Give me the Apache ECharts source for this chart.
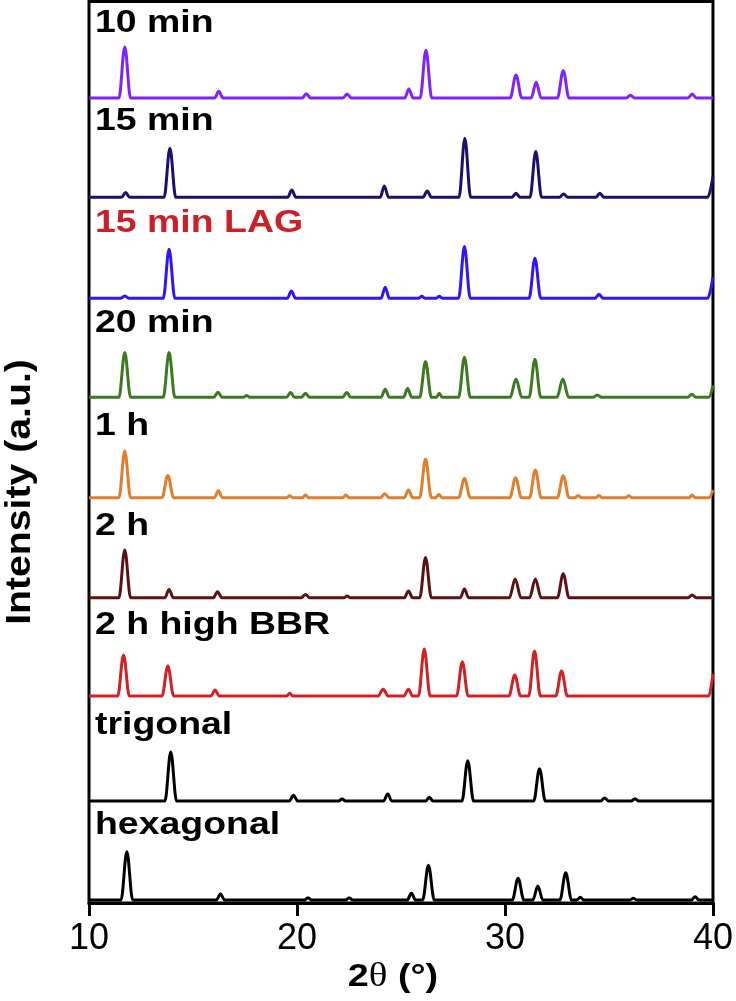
<!DOCTYPE html>
<html>
<head>
<meta charset="utf-8">
<script src="https://cdn.jsdelivr.net/npm/echarts@6/dist/echarts.min.js"></script>
<style>html,body{margin:0;padding:0;background:#fff}#c{width:736px;height:1001px}</style>
</head>
<body>
<div id="c"></div>
<script>
// ---- tick labels / axis ----
const xTicks = [10, 20, 30, 40];

// ---- series names (top to bottom) ----
const names = ['10 min', '15 min', '15 min LAG', '20 min', '1 h', '2 h', '2 h high BBR', 'trigonal', 'hexagonal'];
const colors = ['#7f22ff', '#1c0f6e', '#2f14ff', '#3b7a1e', '#e27d2b', '#5c1212', '#d42024', '#000000', '#000000'];
const labelColors = ['#000', '#000', '#cc2027', '#000', '#000', '#000', '#000', '#000', '#000'];
// vertical stacking offsets (intensity units)
const offsets = [805, 705.7, 604.7, 505.7, 405.3, 305.3, 207, 102, 3];

// ---- patterns: [2theta, relative intensity] ----
const p10min = [[10,0],[11.44,0],[11.72,51],[12.0,0],[16.04,0],[16.24,6.7],[16.44,0],[20.25,0],[20.45,4.3],[20.65,0],[22.21,0],[22.41,4],[22.61,0],[25.18,0],[25.38,9],[25.58,0],[25.92,0],[26.2,47.7],[26.48,0],[30.25,0],[30.53,23],[30.81,0],[31.26,0],[31.5,15.7],[31.74,0],[32.52,0],[32.8,27.3],[33.08,0],[35.83,0],[36.03,2.7],[36.23,0],[38.8,0],[39.0,4],[39.2,0],[40,0]];
const p15min = [[10,0],[11.56,0],[11.76,4.7],[11.96,0],[13.61,0],[13.89,49],[14.17,0],[19.55,0],[19.75,7.3],[19.95,0],[24.0,0],[24.2,11.3],[24.4,0],[26.06,0],[26.26,6.3],[26.46,0],[27.79,0],[28.07,59],[28.35,0],[30.33,0],[30.53,4],[30.73,0],[31.2,0],[31.48,45.7],[31.76,0],[32.62,0],[32.82,3.3],[33.02,0],[34.36,0],[34.56,4],[34.76,0],[39.75,0],[40,20.7]];
const p15LAG = [[10,0],[11.52,0],[11.72,2.3],[11.92,0],[13.57,0],[13.85,49],[14.13,0],[19.53,0],[19.73,7.3],[19.93,0],[24.04,0],[24.24,11],[24.44,0],[25.85,0],[26.0,2],[26.15,0],[26.7,0],[26.84,2],[26.98,0],[27.77,0],[28.05,51.7],[28.33,0],[31.16,0],[31.44,40],[31.72,0],[34.32,0],[34.52,4],[34.72,0],[39.75,0],[40,21]];
const p20min = [[10,0],[11.44,0],[11.72,44.7],[12.0,0],[13.57,0],[13.85,44.7],[14.13,0],[16.0,0],[16.2,5],[16.4,0],[17.43,0],[17.58,1.7],[17.73,0],[19.49,0],[19.69,4.7],[19.89,0],[20.21,0],[20.41,4],[20.61,0],[22.19,0],[22.39,4.7],[22.59,0],[24.04,0],[24.24,8],[24.44,0],[25.12,0],[25.32,8.7],[25.52,0],[25.9,0],[26.18,35.7],[26.46,0],[26.7,0],[26.84,4],[26.98,0],[27.77,0],[28.05,40],[28.33,0],[30.25,0],[30.53,18.3],[30.81,0],[31.16,0],[31.44,38],[31.72,0],[32.5,0],[32.78,18.3],[33.06,0],[34.24,0],[34.44,2.3],[34.64,0],[38.78,0],[38.98,3],[39.18,0],[39.8,0],[40,12]];
const p1h = [[10,0],[11.44,0],[11.72,46.7],[12.0,0],[13.51,0],[13.79,22.3],[14.07,0],[16.02,0],[16.22,7],[16.42,0],[19.5,0],[19.65,2],[19.8,0],[20.26,0],[20.41,2.7],[20.56,0],[22.2,0],[22.35,2.7],[22.5,0],[24.02,0],[24.22,4],[24.42,0],[25.16,0],[25.36,7.7],[25.56,0],[25.9,0],[26.18,38.7],[26.46,0],[26.67,0],[26.82,3.3],[26.97,0],[27.77,0],[28.05,19.3],[28.33,0],[30.23,0],[30.51,20],[30.79,0],[31.18,0],[31.46,27.7],[31.74,0],[32.52,0],[32.8,22],[33.08,0],[33.37,0],[33.52,2.3],[33.67,0],[34.37,0],[34.52,2.3],[34.67,0],[35.8,0],[35.95,2],[36.1,0],[38.85,0],[39.0,2.7],[39.15,0],[39.8,0],[40,7.7]];
const p2h = [[10,0],[11.44,0],[11.72,47.7],[12.0,0],[13.65,0],[13.85,8.3],[14.05,0],[15.98,0],[16.18,6],[16.38,0],[20.21,0],[20.41,3.3],[20.61,0],[22.26,0],[22.41,1.7],[22.56,0],[25.16,0],[25.36,6.7],[25.56,0],[25.9,0],[26.18,40.3],[26.46,0],[27.85,0],[28.05,8.7],[28.25,0],[30.21,0],[30.49,18.7],[30.77,0],[31.18,0],[31.46,18.7],[31.74,0],[32.52,0],[32.8,24],[33.08,0],[38.8,0],[39.0,2.7],[39.2,0],[40,0]];
const p2hBBR = [[10,0],[11.38,0],[11.66,41],[11.94,0],[13.51,0],[13.79,30],[14.07,0],[15.86,0],[16.06,6],[16.26,0],[19.5,0],[19.65,2.7],[19.8,0],[23.9,0],[24.14,6.7],[24.38,0],[25.14,0],[25.36,6.7],[25.56,0],[25.84,0],[26.12,47],[26.4,0],[27.67,0],[27.95,34.3],[28.23,0],[30.19,0],[30.47,21],[30.75,0],[31.14,0],[31.42,45],[31.7,0],[32.44,0],[32.72,25],[33.0,0],[39.8,0],[40,22]];
const pTrig = [[10,0],[13.65,0],[13.93,49],[14.21,0],[19.63,0],[19.83,5.7],[20.03,0],[22.0,0],[22.17,2],[22.34,0],[24.16,0],[24.36,7],[24.56,0],[26.18,0],[26.36,3.7],[26.54,0],[27.93,0],[28.21,40.3],[28.49,0],[31.38,0],[31.66,32.3],[31.94,0],[34.6,0],[34.79,3],[34.98,0],[36.07,0],[36.25,2.3],[36.43,0],[40,0]];
const pHex = [[10,0],[11.54,0],[11.82,48.3],[12.1,0],[16.12,0],[16.32,6],[16.52,0],[20.36,0],[20.53,2.3],[20.7,0],[22.34,0],[22.51,2.3],[22.68,0],[25.3,0],[25.5,6.7],[25.7,0],[26.04,0],[26.32,34.7],[26.6,0],[30.35,0],[30.63,21.7],[30.91,0],[31.34,0],[31.58,14],[31.82,0],[32.64,0],[32.92,27.3],[33.2,0],[33.45,0],[33.62,2.7],[33.79,0],[36.0,0],[36.17,1.7],[36.34,0],[38.96,0],[39.14,3.3],[39.32,0],[40,0]];

const patterns = [p10min, p15min, p15LAG, p20min, p1h, p2h, p2hBBR, pTrig, pHex];

const chart = echarts.init(document.getElementById('c'), null, {renderer: 'canvas'});

const series = patterns.map((pts, i) => ({
  name: names[i],
  type: 'line',
  showSymbol: false,
  animation: false,
  smooth: 0.35,
  smoothMonotone: 'x',
  lineStyle: {color: colors[i], width: 3, join: 'round'},
  itemStyle: {color: colors[i]},
  z: 3,
  data: pts.map(p => [p[0], p[1] + offsets[i]])
}));

// vertical centres (pixels) of the pattern-name labels
const labelY = [23.5, 121.5, 223.5, 323.5, 426.5, 526.5, 625.5, 725.5, 825.5];
const FONT_B = '"Liberation Sans", Arial, sans-serif';
const graphics = names.map((n, i) => ({
  type: 'text',
  x: 95,
  y: labelY[i],
  scaleX: 1.17,
  style: {text: n, font: 'bold 32px ' + FONT_B, fill: labelColors[i], align: 'left', verticalAlign: 'middle'},
  z: 10
}));
graphics.push({
  type: 'text',
  x: 20, y: 492,
  rotation: Math.PI / 2,
  scaleX: 1.12,
  style: {text: 'Intensity (a.u.)', font: 'bold 35px ' + FONT_B, fill: '#000', align: 'center', verticalAlign: 'middle'},
  z: 10
});
graphics.push({
  type: 'text',
  x: 393, y: 977,
  scaleX: 1.18,
  style: {
    text: '{b|2}{t|θ}{b| (°)}',
    align: 'center', verticalAlign: 'middle',
    rich: {
      b: {font: 'bold 32px ' + FONT_B, fill: '#000'},
      t: {font: '33px "Liberation Serif", "Times New Roman", serif', fill: '#000'}
    }
  },
  z: 10
});

chart.setOption({
  backgroundColor: '#fff',
  animation: false,
  grid: {left: 89, right: 22, top: 1.5, bottom: 98, show: true, borderColor: '#000', borderWidth: 3, backgroundColor: 'transparent'},
  xAxis: {
    type: 'value', min: xTicks[0], max: xTicks[xTicks.length - 1], interval: 10,
    axisLine: {show: true, lineStyle: {color: '#000', width: 3}},
    axisTick: {show: true, inside: false, length: 13, lineStyle: {color: '#000', width: 3}},
    axisLabel: {show: true, color: '#000', fontSize: 36, fontFamily: FONT_B, margin: 18},
    splitLine: {show: false}
  },
  yAxis: {
    type: 'value', min: 0, max: 901.5,
    axisLine: {show: false}, axisTick: {show: false}, axisLabel: {show: false}, splitLine: {show: false}
  },
  series: series,
  graphic: graphics
});
</script>
</body>
</html>
